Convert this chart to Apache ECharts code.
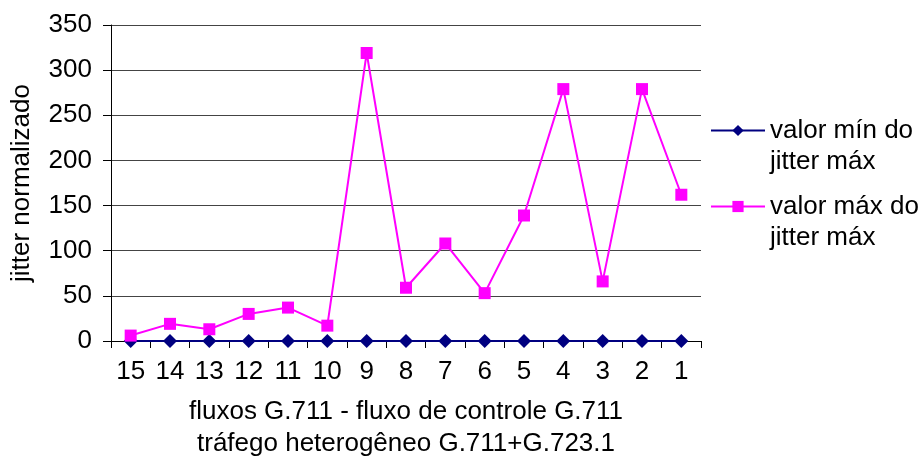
<!DOCTYPE html>
<html>
<head>
<meta charset="utf-8">
<script src="https://cdn.jsdelivr.net/npm/echarts@6/dist/echarts.min.js"></script>
<style>
  html, body { margin: 0; padding: 0; background: #fff; }
  #chart { width: 918px; height: 459px; }
</style>
</head>
<body>
<div id="chart"></div>
<script>
const categories = ['15', '14', '13', '12', '11', '10', '9', '8', '7', '6', '5', '4', '3', '2', '1']
const minJitter = [0, 0, 0, 0, 0, 0, 0, 0, 0, 0, 0, 0, 0, 0, 0]
const maxJitter = [6, 19, 13, 30, 37, 17, 319, 59, 108, 53, 139, 279, 66, 279, 162]
const minName = 'valor mín do\njitter máx'
const maxName = 'valor máx do\njitter máx'

const font = "'Liberation Sans', Arial, sans-serif"
const fontSize = 26
const chart = echarts.init(document.getElementById('chart'))

// one legend per series so the icon sits on the first text line
function legendAt(name, top) {
  return {
    data: [name],
    left: 710,
    top: top,
    padding: 0,
    itemWidth: 54,
    itemHeight: 14,
    itemGap: 0,
    formatter: n => ' \n' + n,
    textStyle: {
      fontFamily: font,
      fontSize: fontSize,
      color: '#000',
      lineHeight: 31
    }
  }
}

chart.setOption({
  animation: false,
  backgroundColor: '#fff',
  textStyle: { fontFamily: font },
  grid: { left: 111, right: 217, top: 25, bottom: 118, outerBoundsMode: 'none' },
  legend: [legendAt(minName, 84), legendAt(maxName, 160)],
  xAxis: {
    type: 'category',
    data: categories,
    boundaryGap: true,
    name: 'fluxos G.711 - fluxo de controle G.711\ntráfego heterogêneo G.711+G.723.1',
    nameLocation: 'middle',
    nameGap: 55,
    nameTextStyle: { fontFamily: font, fontSize: fontSize, color: '#000', lineHeight: 32 },
    axisLine: { lineStyle: { color: '#000', width: 1 } },
    axisTick: { show: true, length: 7, lineStyle: { color: '#000' } },
    axisLabel: { fontFamily: font, fontSize: fontSize, color: '#000', margin: 18 },
    splitLine: { show: false }
  },
  yAxis: {
    type: 'value',
    min: 0,
    max: 350,
    interval: 50,
    name: 'jitter normalizado',
    nameLocation: 'middle',
    nameGap: 76,
    nameTextStyle: { fontFamily: font, fontSize: fontSize, color: '#000' },
    axisLine: { show: true, lineStyle: { color: '#000', width: 1 } },
    axisTick: { show: true, length: 8, lineStyle: { color: '#000' } },
    axisLabel: { fontFamily: font, fontSize: fontSize, color: '#000', margin: 19 },
    splitLine: { show: true, lineStyle: { color: '#444', width: 1 } }
  },
  series: [
    {
      name: minName,
      type: 'line',
      data: minJitter,
      symbol: 'diamond',
      symbolSize: 14,
      lineStyle: { color: '#000080', width: 2 },
      itemStyle: { color: '#000080' },
      z: 3
    },
    {
      name: maxName,
      type: 'line',
      data: maxJitter,
      symbol: 'rect',
      symbolSize: 12,
      lineStyle: { color: '#ff00ff', width: 2 },
      itemStyle: { color: '#ff00ff' },
      z: 4
    }
  ]
})
</script>
</body>
</html>
